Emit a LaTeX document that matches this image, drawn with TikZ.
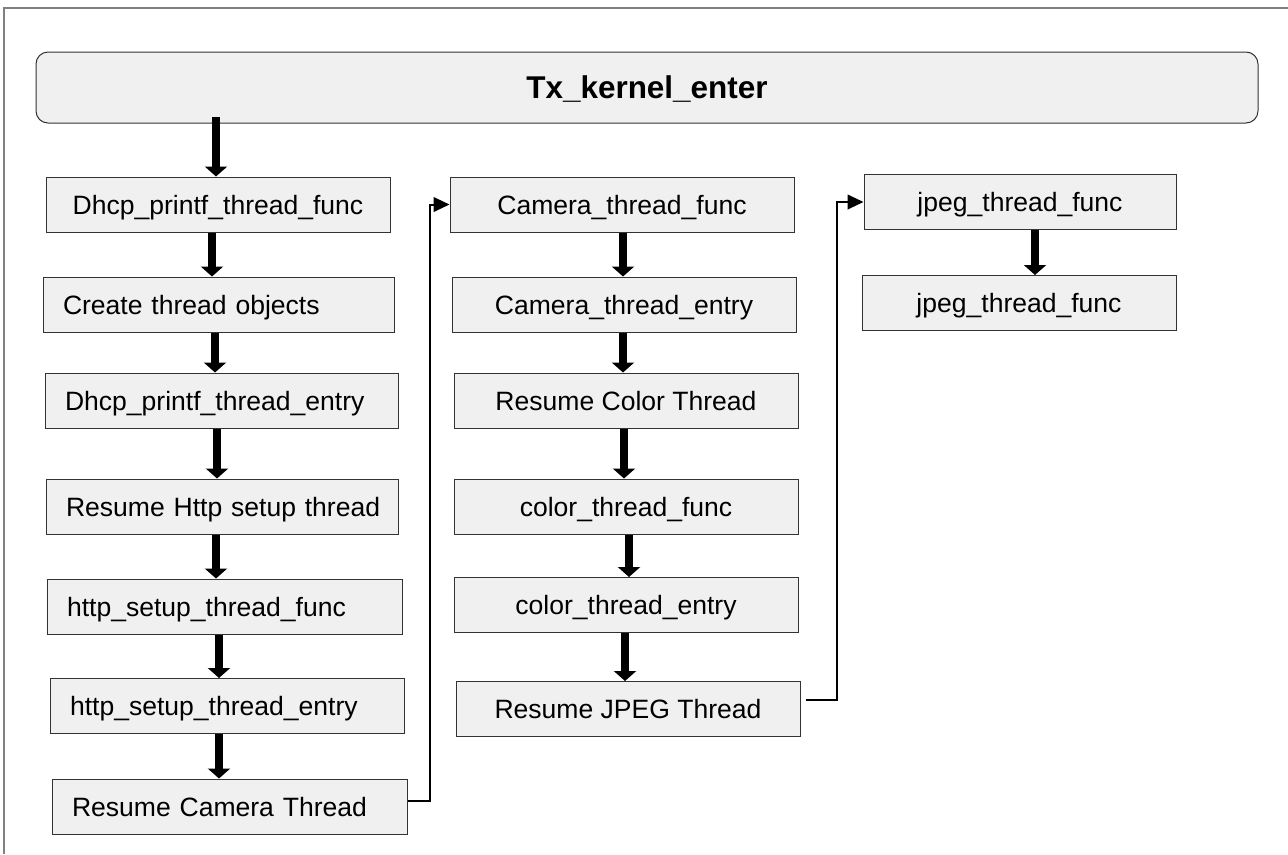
\documentclass[tikz,border=0pt]{standalone}
\usepackage{fontspec}
\setmainfont{Liberation Sans}
\usetikzlibrary{arrows.meta}

\begin{document}
\begin{tikzpicture}
[x=0.75pt,y=-0.75pt,%
  boxDecorate/.style={draw=black!80,line width=0.75pt,fill=black!6,minimum height=41.25pt,inner sep=0pt,text height=14.25pt,text depth=0pt,font=\fontsize{19.9}{24}\selectfont},%
  midDecorate/.style={boxDecorate,minimum width=258pt},%
  leftDecorate/.style={boxDecorate,align=left,inner xsep=15pt,text width=#1},%
  fatDecorate/.style={line width=6pt,-{Triangle[width=16.5pt,length=7.5pt]}},%
  lineDecorate/.style={line width=1.5pt,-{Triangle[width=11pt,length=12pt]}},%
  frameDecorate/.style={draw=black!50,line width=1.5pt}]
\useasboundingbox (0,0) rectangle (1288,854);
%% outer frame
\draw[frameDecorate] (4,854) -- (4,8) -- (1288,8);
%% kernel entry
\node[boxDecorate,rounded corners=9pt,minimum width=916.5pt,minimum height=53.25pt,text height=16.9pt,
  font=\fontsize{23.6}{28}\selectfont\bfseries] (kernel) at (647,87.5) {Tx\_kernel\_enter};
%% first column
\node[midDecorate] (b1) at (218,204.5) {Dhcp\_printf\_thread\_func};
\node[leftDecorate=233.25pt] (b2) at (218.5,304.5) {Create thread objects};
\node[leftDecorate=234.75pt] (b3) at (221.5,400.5) {Dhcp\_printf\_thread\_entry};
\node[leftDecorate=234pt] (b4) at (222,506.5) {\mbox{Resume Http setup thread}};
\node[leftDecorate=236.25pt] (b5) at (224.5,606.5) {http\_setup\_thread\_func};
\node[leftDecorate=235.5pt] (b6) at (227,706) {http\_setup\_thread\_entry};
\node[leftDecorate=236.25pt] (b7) at (229.5,806.5) {Resume Camera Thread};
%% second and third column
\foreach \nodename/\x/\y/\txt in {
  c1/622/204.5/Camera\_thread\_func, c2/624/304.5/Camera\_thread\_entry,
  c3/626/400.5/Resume Color Thread, c4/626/506.5/color\_thread\_func,
  c5/626/605/color\_thread\_entry, c6/628/709/Resume JPEG Thread}
{
  \node[midDecorate] (\nodename) at (\x,\y) {\txt};
}
\node[midDecorate,minimum width=234pt] (d1) at (1020,202) {jpeg\_thread\_func};
\node[midDecorate,minimum width=235.5pt] (d2) at (1019,303) {jpeg\_thread\_func};
%% thick arrows
\draw[fatDecorate] ([yshift=5pt]kernel.south -| 216,0) -- (b1.north -| 216,0);
\foreach \from/\to/\xx in {
  b1/b2/212, b2/b3/215, b3/b4/217, b4/b5/216, b5/b6/219, b6/b7/219,
  c1/c2/623, c2/c3/623, c3/c4/624, c4/c5/629, c5/c6/625, d1/d2/1035}
{
  \draw[fatDecorate] (\from.south -| \xx,0) -- (\to.north -| \xx,0);
}
%% links between columns
\draw[lineDecorate] ([yshift=4.5pt]b7.east) -- ++(22,0) |- (c1.west);
\draw[lineDecorate] ([xshift=3.75pt,yshift=6.75pt]c6.east) -- ++(31,0) |- (d1.west);
\end{tikzpicture}
\end{document}
